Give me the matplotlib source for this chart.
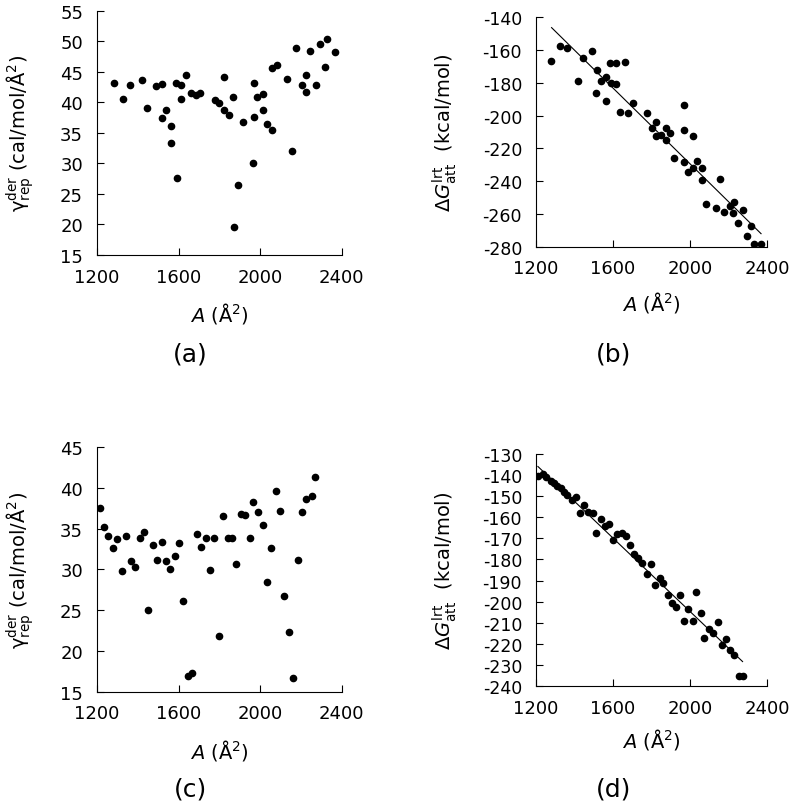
import matplotlib
matplotlib.use("Agg")
import matplotlib.pyplot as plt

plt.rcParams['axes.unicode_minus'] = False

# panel (a): gamma_rep^der vs A
a_x = [1282, 1327, 1363, 1420, 1447, 1489, 1517, 1517, 1540, 1564, 1564, 1589, 1590,
       1613, 1613, 1634, 1660, 1683, 1706, 1776, 1799, 1822, 1824, 1847, 1869, 1871,
       1892, 1917, 1966, 1969, 1969, 1985, 2013, 2015, 2034, 2059, 2059, 2082, 2131,
       2154, 2175, 2204, 2224, 2225, 2245, 2271, 2291, 2317, 2328, 2366]
a_y = [43.1, 40.5, 42.9, 43.7, 39.1, 42.7, 43.0, 37.4, 38.7, 36.2, 33.3, 43.1, 27.6,
       42.8, 40.6, 44.5, 41.5, 41.2, 41.5, 40.3, 39.9, 44.1, 38.7, 37.9, 40.9, 19.6,
       26.4, 36.8, 30.0, 37.6, 43.2, 40.9, 38.7, 41.4, 36.5, 35.5, 45.6, 46.1, 43.8,
       32.0, 48.9, 42.8, 41.7, 44.4, 48.4, 42.9, 49.5, 45.7, 50.4, 48.3]

# panel (b): dG_att^lrt vs A
b_x = [1280, 1327, 1361, 1420, 1445, 1491, 1516, 1514, 1538, 1564, 1562, 1587, 1588,
       1614, 1613, 1634, 1661, 1680, 1706, 1777, 1800, 1824, 1824, 1847, 1873, 1873,
       1895, 1918, 1968, 1968, 1968, 1989, 2013, 2017, 2038, 2062, 2062, 2084, 2133,
       2157, 2176, 2206, 2227, 2225, 2249, 2273, 2296, 2318, 2332, 2367]
b_y = [-166.6, -157.9, -158.9, -178.8, -165.0, -160.9, -172.3, -186.3, -178.8, -176.5,
       -191.3, -167.8, -180.0, -168.2, -180.8, -198.0, -167.4, -198.2, -192.1, -198.2,
       -207.8, -203.7, -212.6, -211.8, -207.4, -214.7, -210.6, -225.8, -193.6, -209.0,
       -228.5, -234.1, -231.7, -212.6, -227.9, -231.7, -239.4, -253.6, -256.1, -238.6,
       -258.5, -255.0, -252.4, -259.1, -265.6, -257.7, -273.1, -267.4, -278.0, -278.0]
b_fit_x = [1281, 2369]
b_fit_y = [-146.5, -271.9]

# panel (c)
c_x = [1213, 1236, 1256, 1278, 1300, 1321, 1344, 1365, 1386, 1409, 1430, 1450, 1474,
       1494, 1517, 1536, 1559, 1580, 1603, 1623, 1644, 1667, 1688, 1709, 1732, 1752,
       1775, 1796, 1819, 1840, 1863, 1882, 1904, 1927, 1948, 1964, 1990, 2013, 2033,
       2054, 2075, 2098, 2116, 2142, 2163, 2183, 2204, 2225, 2253, 2269]
c_y = [37.5, 35.2, 34.1, 32.6, 33.7, 29.8, 34.1, 31.0, 30.3, 33.8, 34.6, 25.0, 33.0,
       31.1, 33.4, 31.0, 30.1, 31.6, 33.3, 26.2, 17.0, 17.3, 34.4, 32.8, 33.8, 29.9,
       33.9, 21.8, 36.5, 33.9, 33.9, 30.7, 36.8, 36.7, 33.9, 38.3, 37.0, 35.5, 28.5,
       32.6, 39.6, 37.1, 26.8, 22.3, 16.7, 31.1, 37.0, 38.6, 39.0, 41.3]

# panel (d)
d_x = [1210, 1235, 1252, 1276, 1294, 1311, 1328, 1346, 1363, 1386, 1406, 1429, 1450,
       1472, 1495, 1514, 1536, 1559, 1581, 1602, 1623, 1646, 1668, 1689, 1710, 1731,
       1753, 1776, 1798, 1819, 1842, 1862, 1885, 1906, 1928, 1949, 1970, 1991, 2013,
       2032, 2057, 2074, 2100, 2121, 2145, 2166, 2186, 2209, 2227, 2253, 2273]
d_y = [-140.3, -139.5, -141.1, -143.0, -143.8, -145.0, -146.3, -147.9, -149.3, -151.8,
       -150.3, -157.9, -154.2, -157.7, -157.9, -167.4, -160.9, -164.3, -163.1, -170.8,
       -168.1, -167.4, -168.8, -173.0, -177.3, -179.1, -181.8, -186.8, -182.2, -192.2,
       -188.6, -191.3, -196.6, -200.7, -202.5, -196.8, -209.1, -203.4, -209.1, -195.2,
       -205.3, -217.2, -213.1, -214.8, -209.8, -220.4, -217.8, -222.9, -225.4, -235.2,
       -235.1]
d_fit_x = [1210, 2273]
d_fit_y = [-135.9, -228.4]

x_ticks = [1200, 1600, 2000, 2400]
gamma_label = r'$\mathrm{\gamma}^{\mathrm{der}}_{\mathrm{rep}}$ (cal/mol/Å$^2$)'
dg_label = r'$\mathit{\Delta G}^{\mathrm{lrt}}_{\mathrm{att}}$  (kcal/mol)'
x_label = r'$A$ (Å$^2$)'

fig = plt.figure(figsize=(7.95, 8.12), dpi=100)


def style(ax, yticks, ylabel, ylab_x, xlab_y, ytick_size=13):
    ax.spines['top'].set_visible(False)
    ax.spines['right'].set_visible(False)
    ax.spines['left'].set_linewidth(0.8)
    ax.spines['bottom'].set_linewidth(0.8)
    ax.set_xlim(1200, 2400)
    ax.set_ylim(yticks[0], yticks[-1])
    ax.set_xticks(x_ticks)
    ax.set_yticks(yticks)
    ax.tick_params(direction='in', length=5, width=0.8, top=False, right=False)
    ax.tick_params(axis='x', labelsize=13, pad=9)
    ax.tick_params(axis='y', labelsize=ytick_size, pad=10)
    ax.set_xlabel(x_label, fontsize=14)
    ax.set_ylabel(ylabel, fontsize=14)
    ax.xaxis.set_label_coords(0.5, xlab_y)
    ax.xaxis.label.set_va('center')
    ax.yaxis.set_label_coords(ylab_x, 0.5)
    ax.yaxis.label.set_va('center')


ax_a = fig.add_axes([0.122, 0.6847, 0.308, 0.3009])
ax_a.plot(a_x, a_y, 'o', color='black', markersize=4.5)
style(ax_a, list(range(15, 56, 5)), gamma_label, -0.314, -0.234)

ax_b = fig.add_axes([0.6742, 0.6946, 0.2906, 0.2833])
ax_b.plot(b_x, b_y, 'o', color='black', markersize=4.5)
ax_b.plot(b_fit_x, b_fit_y, '-', color='black', linewidth=0.8)
style(ax_b, list(range(-280, -139, 20)), dg_label, -0.394, -0.239, ytick_size=12.5)

ax_c = fig.add_axes([0.122, 0.1466, 0.308, 0.3017])
ax_c.plot(c_x, c_y, 'o', color='black', markersize=4.5)
style(ax_c, list(range(15, 46, 5)), gamma_label, -0.314, -0.233)

ax_d = fig.add_axes([0.6742, 0.1539, 0.2906, 0.2857])
ax_d.plot(d_x, d_y, 'o', color='black', markersize=4.5)
ax_d.plot(d_fit_x, d_fit_y, '-', color='black', linewidth=0.8)
style(ax_d, list(range(-240, -129, 10)), dg_label, -0.394, -0.228, ytick_size=12.5)

for lab, x, y in [('(a)', 190, 355), ('(b)', 614, 355), ('(c)', 190, 790), ('(d)', 614, 790)]:
    fig.text(x / 795, 1 - y / 812, lab, fontsize=18, ha='center', va='center')

fig.savefig('out.png', dpi=100)
